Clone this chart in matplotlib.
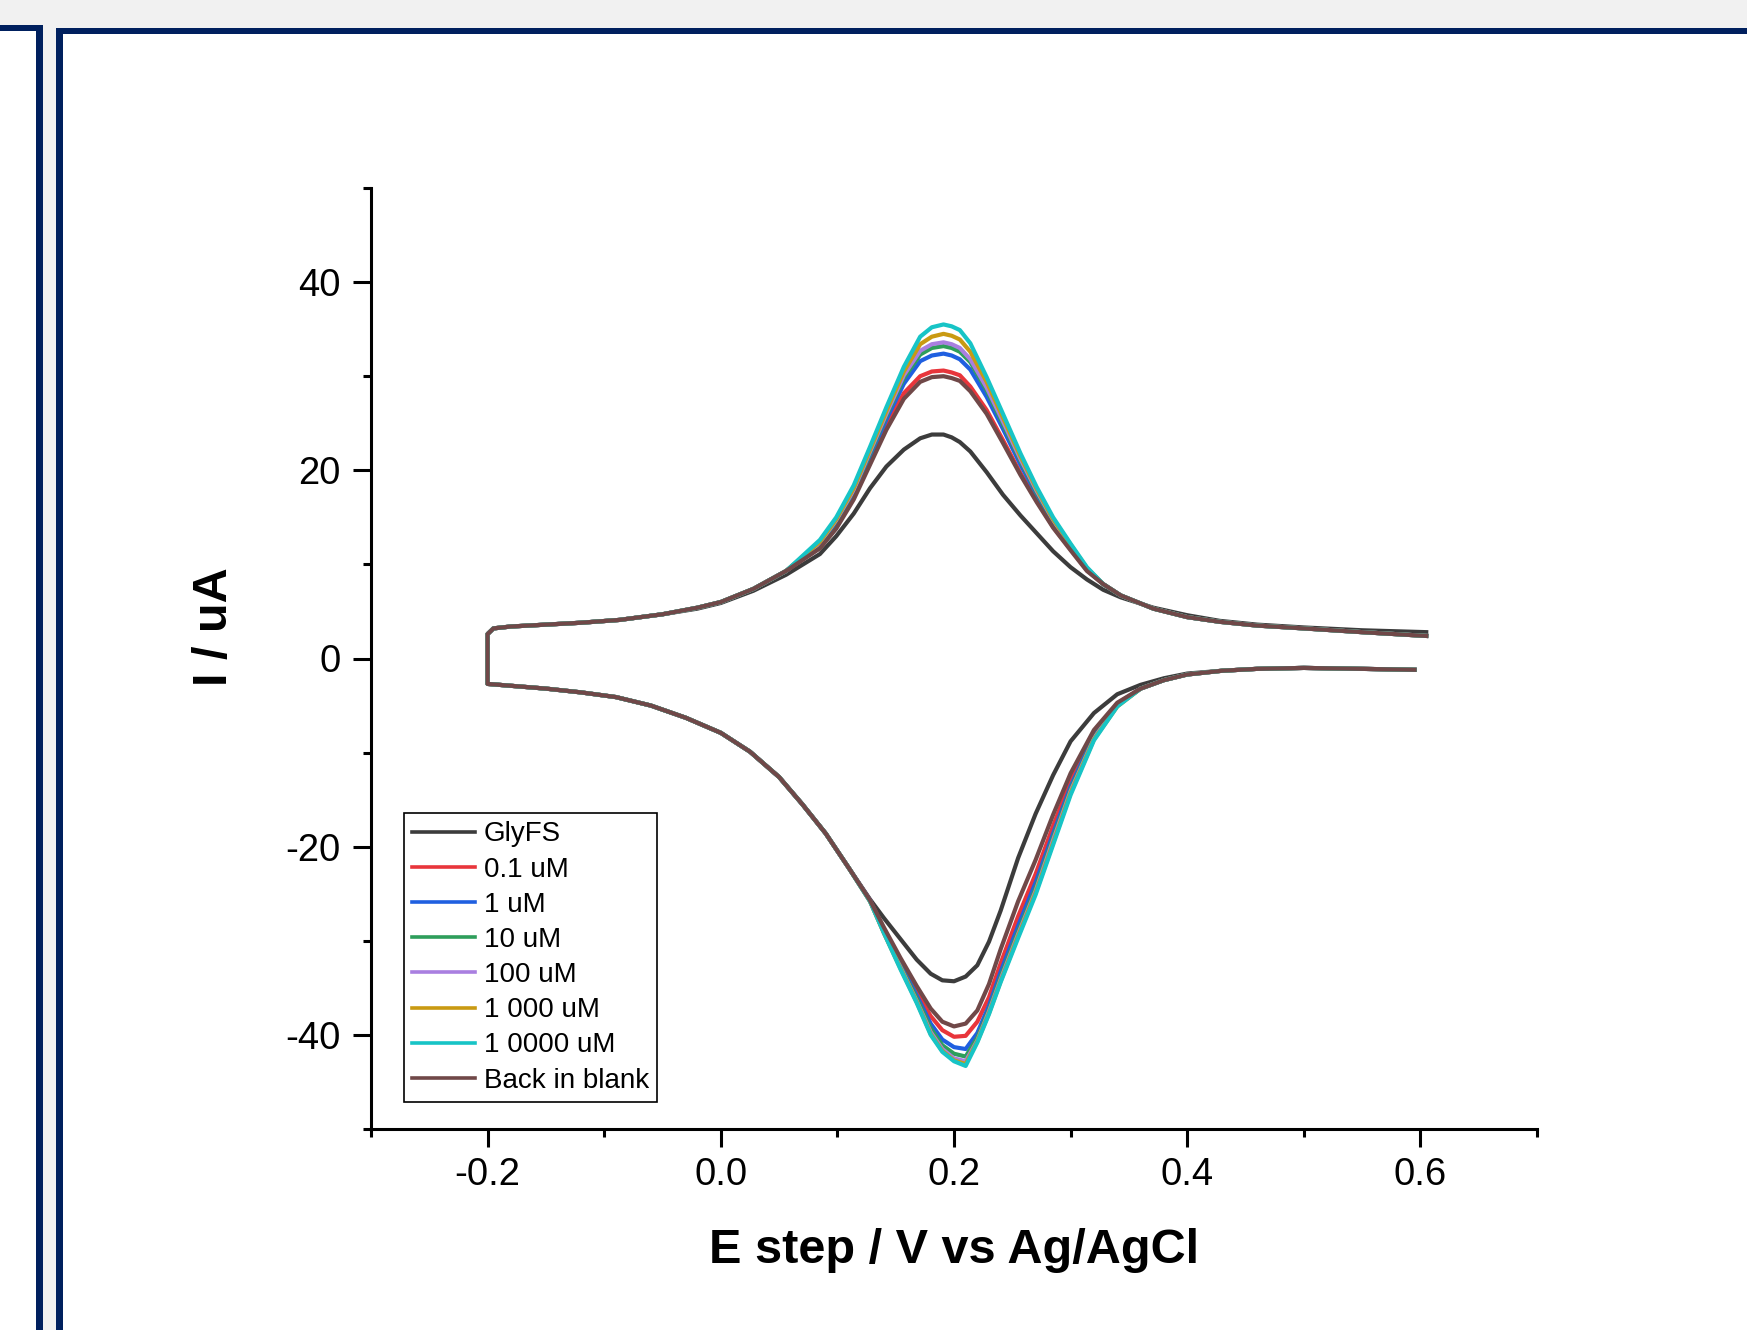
import matplotlib
matplotlib.use("Agg")
import matplotlib.pyplot as plt
from matplotlib.patches import Rectangle
from matplotlib.ticker import MultipleLocator, FormatStrFormatter

plt.rcParams['font.family'] = ['Liberation Sans', 'DejaVu Sans']
plt.rcParams['axes.unicode_minus'] = False

# --- DATA ---
labels = ['GlyFS', '0.1 uM', '1 uM', '10 uM', '100 uM', '1 000 uM', '1 0000 uM', 'Back in blank']
colors = ['#3c3c3c', '#e8353b', '#1f5fe0', '#2e9e5b', '#a97fe0', '#c99a12', '#17c4c6', '#704848']

# forward (upper) sweep, E in V
E_fwd = [-0.200, -0.195, -0.18, -0.15, -0.12, -0.087, -0.05, -0.02, 0.00, 0.028, 0.056,
         0.085, 0.099, 0.114, 0.128, 0.142, 0.157, 0.171, 0.181, 0.191, 0.198, 0.205,
         0.214, 0.228, 0.242, 0.257, 0.271, 0.285, 0.300, 0.314,
         0.328, 0.343, 0.371, 0.400, 0.428, 0.46, 0.50, 0.55, 0.605]
fwd_foot = [2.6, 3.2, 3.4, 3.6, 3.8, 4.1, 4.7, 5.4, 6.0, 7.4, 9.3]
fwd_foot_gly = [2.6, 3.2, 3.4, 3.6, 3.8, 4.1, 4.7, 5.3, 5.9, 7.2, 8.9]
fwd_tail = [7.9, 6.7, 5.3, 4.4, 3.9, 3.5, 3.2, 2.8, 2.4]
fwd_tail_gly = [7.3, 6.5, 5.4, 4.6, 4.0, 3.6, 3.3, 3.0, 2.8]

fwd_gly = [11.1, 13.0, 15.4, 18.1, 20.4, 22.2, 23.4, 23.8, 23.8, 23.5, 23.0, 22.0, 19.8, 17.4, 15.2, 13.3, 11.4, 9.7, 8.4]
fwd_01 = [11.9, 14.0, 17.2, 21.0, 24.8, 28.2, 30.0, 30.5, 30.6, 30.4, 30.1, 28.9, 26.4, 23.2, 19.7, 16.8, 14.0, 11.6, 9.4]
fwd_1 = [12.1, 14.4, 17.6, 21.5, 25.4, 29.2, 31.6, 32.2, 32.4, 32.2, 31.8, 30.7, 27.8, 24.4, 20.6, 17.4, 14.4, 11.8, 9.5]
fwd_10 = [12.2, 14.6, 17.8, 21.8, 25.8, 29.8, 32.3, 33.0, 33.2, 33.0, 32.6, 31.5, 28.5, 24.9, 21.0, 17.6, 14.6, 11.9, 9.5]
fwd_100 = [12.3, 14.7, 17.9, 22.0, 26.0, 30.1, 32.7, 33.4, 33.6, 33.4, 33.0, 31.8, 28.8, 25.2, 21.2, 17.8, 14.7, 12.0, 9.6]
fwd_1000 = [12.4, 14.8, 18.1, 22.2, 26.3, 30.5, 33.4, 34.2, 34.5, 34.3, 33.9, 32.6, 29.4, 25.6, 21.5, 18.0, 14.8, 12.1, 9.6]
fwd_10000 = [12.6, 15.0, 18.4, 22.5, 26.7, 31.0, 34.2, 35.2, 35.5, 35.3, 34.9, 33.5, 29.9, 26.0, 21.8, 18.2, 15.0, 12.2, 9.7]
fwd_blank = [11.7, 13.8, 16.9, 20.6, 24.3, 27.6, 29.4, 29.9, 30.0, 29.8, 29.5, 28.4, 26.0, 22.9, 19.5, 16.6, 13.9, 11.5, 9.3]

# reverse (lower) sweep
E_rev = [0.595, 0.55, 0.50, 0.46, 0.43, 0.40, 0.38, 0.36,
         0.34, 0.32, 0.30, 0.285, 0.27, 0.255, 0.24, 0.23, 0.22, 0.21, 0.20, 0.19,
         0.18, 0.168, 0.154, 0.14, 0.128,
         0.11, 0.09, 0.07, 0.05, 0.025, 0.0, -0.03, -0.06, -0.09, -0.12, -0.15, -0.18, -0.2]
rev_head = [-1.2, -1.1, -1.0, -1.1, -1.3, -1.7, -2.3, -3.2]
rev_head_gly = [-1.2, -1.1, -1.0, -1.1, -1.3, -1.6, -2.1, -2.8]
rev_tail = [-22.3, -18.6, -15.5, -12.6, -9.9, -7.9, -6.3, -5.0, -4.1, -3.6, -3.2, -2.9, -2.7]

rev_gly = [-3.8, -5.8, -8.8, -12.4, -16.5, -21.2, -26.8, -30.1, -32.6, -33.8, -34.3, -34.2, -33.5, -32.0, -29.8, -27.6, -25.6]
rev_01 = [-4.8, -8.0, -13.0, -17.8, -22.9, -27.4, -32.4, -36.0, -38.6, -40.1, -40.2, -39.5, -38.0, -35.4, -32.2, -28.8, -25.7]
rev_1 = [-4.9, -8.2, -13.6, -18.6, -23.8, -28.4, -33.3, -36.9, -39.8, -41.5, -41.3, -40.5, -38.8, -35.8, -32.5, -29.0, -25.7]
rev_10 = [-5.0, -8.4, -13.9, -19.0, -24.4, -29.0, -33.8, -37.3, -40.3, -42.3, -42.0, -41.1, -39.3, -36.1, -32.7, -29.1, -25.8]
rev_100 = [-5.0, -8.5, -14.1, -19.3, -24.7, -29.3, -34.1, -37.5, -40.6, -42.8, -42.5, -41.5, -39.7, -36.4, -32.8, -29.2, -25.8]
rev_1000 = [-5.1, -8.6, -14.3, -19.6, -24.9, -29.5, -34.3, -37.7, -40.7, -43.1, -42.7, -41.7, -39.9, -36.5, -32.9, -29.2, -25.8]
rev_10000 = [-5.1, -8.7, -14.5, -19.8, -25.1, -29.7, -34.4, -37.8, -40.8, -43.3, -42.8, -41.8, -40.0, -36.6, -33.0, -29.2, -25.8]
rev_blank = [-4.7, -7.6, -12.2, -16.6, -21.4, -25.8, -30.9, -34.6, -37.4, -38.8, -39.1, -38.6, -37.2, -34.8, -31.8, -28.6, -25.7]

fwd_mid = [fwd_gly, fwd_01, fwd_1, fwd_10, fwd_100, fwd_1000, fwd_10000, fwd_blank]
rev_mid = [rev_gly, rev_01, rev_1, rev_10, rev_100, rev_1000, rev_10000, rev_blank]

# --- FIGURE ---
W, H = 1747, 1330
fig = plt.figure(figsize=(W / 100, H / 100), dpi=100, facecolor='#f1f1f1')


def px_rect(x0, y0, x1, y1, color):
    # pixel box with top-left origin -> figure fraction
    r = Rectangle((x0 / W, 1 - y1 / H), (x1 - x0) / W, (y1 - y0) / H,
                  transform=fig.transFigure, facecolor=color, edgecolor='none', zorder=-10)
    fig.add_artist(r)


navy = '#00205e'
# left panel
px_rect(0, 25, 43, H, navy)
px_rect(0, 31, 36, H, 'white')
# main panel
px_rect(56, 28, W, H, navy)
px_rect(63, 34, W, H, 'white')

ax = fig.add_axes([371 / W, 201 / H, 1166 / W, 941 / H])
ax.set_facecolor('none')

for i in range(len(labels)):
    if i == 0:
        up = fwd_foot_gly + fwd_mid[i] + fwd_tail_gly
        dn = rev_head_gly + rev_mid[i] + rev_tail
    else:
        up = fwd_foot + fwd_mid[i] + fwd_tail
        dn = rev_head + rev_mid[i] + rev_tail
    ax.plot(E_rev + E_fwd, dn + up, color=colors[i], lw=3.0, label=labels[i],
            solid_joinstyle='round')

ax.set_xlim(-0.3, 0.7)
ax.set_ylim(-50, 50)
ax.xaxis.set_major_locator(MultipleLocator(0.2))
ax.xaxis.set_minor_locator(MultipleLocator(0.1))
ax.yaxis.set_major_locator(MultipleLocator(20))
ax.yaxis.set_minor_locator(MultipleLocator(10))
ax.xaxis.set_major_formatter(FormatStrFormatter('%.1f'))
ax.yaxis.set_major_formatter(FormatStrFormatter('%d'))

for s in ['top', 'right']:
    ax.spines[s].set_visible(False)
for s in ['left', 'bottom']:
    ax.spines[s].set_linewidth(2.2)

ax.tick_params(which='major', direction='out', length=13, width=2.2, labelsize=27.5)
ax.tick_params(which='minor', direction='out', length=6, width=2.2)
ax.tick_params(axis='x', which='major', pad=7)
ax.tick_params(axis='y', which='major', pad=9)

ax.set_xlabel('E step / V vs Ag/AgCl', fontsize=35, fontweight='bold', va='center')
ax.xaxis.set_label_coords(0.5, -0.1286)
ax.set_ylabel('I / uA', fontsize=35, fontweight='bold', va='center')
ax.yaxis.set_label_coords(-0.1340, 0.534)

leg = ax.legend(loc='lower left', bbox_to_anchor=(0.0283, 0.0287), borderaxespad=0,
                fontsize=20, handlelength=2.27, handletextpad=0.3, labelspacing=0.33,
                borderpad=0.3, fancybox=False, framealpha=1, edgecolor='black')
leg.get_frame().set_linewidth(1.2)
for h in leg.get_lines():
    h.set_linewidth(2.6)

fig.savefig('out.png', dpi=100, facecolor=fig.get_facecolor())
